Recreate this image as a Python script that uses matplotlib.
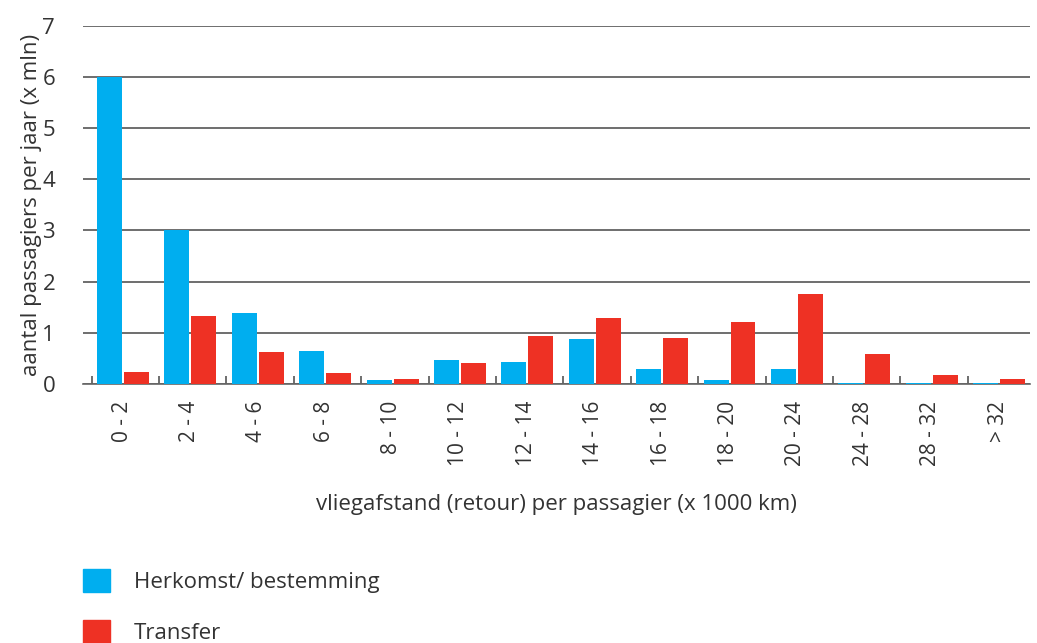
import numpy as np
import matplotlib.pyplot as plt
from matplotlib.patches import Patch

plt.rcParams['font.family'] = ['Open Sans', 'DejaVu Sans']

# afstandsklassen (x 1000 km) en passagiers per jaar (x mln)
klassen = ['0 - 2', '2 - 4', '4 - 6', '6 - 8', '8 - 10', '10 - 12', '12 - 14',
           '14 - 16', '16 - 18', '18 - 20', '20 - 24', '24 - 28', '28 - 32', '> 32']
herkomst = [6.0, 3.0, 1.39, 0.65, 0.08, 0.47, 0.43, 0.88, 0.29, 0.08, 0.29, 0.02, 0.02, 0.02]
transfer = [0.23, 1.33, 0.63, 0.22, 0.09, 0.41, 0.94, 1.29, 0.90, 1.21, 1.76, 0.59, 0.18, 0.10]

blauw = '#00aeef'
rood = '#ee3124'
tekst = '#333333'

fig = plt.figure(figsize=(10.37, 6.43), dpi=100)
ax = fig.add_axes([0.080, 0.403, 0.913, 0.557])

x = np.arange(len(klassen))
ax.bar(x + 0.08, herkomst, width=0.37, align='edge', color=blauw, zorder=3)
ax.bar(x + 0.48, transfer, width=0.37, align='edge', color=rood, zorder=3)

ax.set_xlim(-0.13, 13.92)
ax.set_ylim(0, 7)
ax.set_yticks(range(8))
ax.grid(axis='y', color='#555555', linewidth=1.2, zorder=0)
for s in ['top', 'right', 'left']:
    ax.spines[s].set_visible(False)
ax.spines['bottom'].set_color('#666666')
ax.spines['bottom'].set_linewidth(1.2)

# kleine streepjes op de klassegrenzen
ax.set_xticks(np.arange(0, 14), minor=True)
ax.tick_params(axis='x', which='minor', direction='in', length=6, width=1.2, color='#555555')
ax.set_xticks(x + 0.45)
ax.set_xticklabels(klassen, rotation=90, fontsize=15, color=tekst)
ax.tick_params(axis='x', which='major', length=0, pad=12)
ax.tick_params(axis='y', length=0, pad=20, labelsize=16, labelcolor=tekst)

ax.set_xlabel('vliegafstand (retour) per passagier (x 1000 km)', fontsize=16, color=tekst, labelpad=20)
ax.set_ylabel('aantal passagiers per jaar (x mln)', fontsize=16, color=tekst, labelpad=0)

handles = [Patch(color=blauw), Patch(color=rood)]
fig.legend(handles, ['Herkomst/ bestemming', 'Transfer'], loc='upper left',
           bbox_to_anchor=(0.065, 0.139), frameon=False, fontsize=16,
           handlelength=1.2, handleheight=1.2, handletextpad=1.1, labelspacing=1.2,
           labelcolor=tekst, borderaxespad=0.3)

plt.savefig('out.png', dpi=100)
plt.close()
